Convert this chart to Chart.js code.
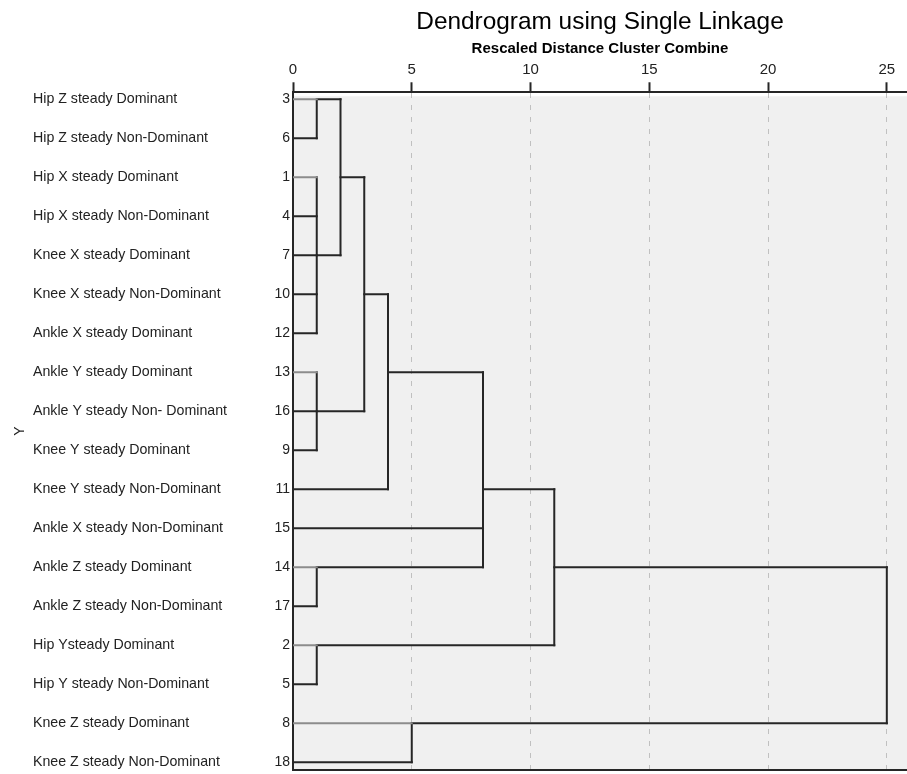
<!DOCTYPE html>
<html>
<head>
<meta charset="utf-8">
<title>Dendrogram using Single Linkage</title>
<script src="https://cdn.jsdelivr.net/npm/chart.js@4.4.1/dist/chart.umd.min.js"></script>
<style>
  html, body { margin: 0; padding: 0; background: #ffffff; }
  canvas { display: block; }
</style>
</head>
<body>
<canvas id="dendro" width="907" height="774"></canvas>
<script>
// Cases in the order they appear down the dendrogram
const caseIds = [3, 6, 1, 4, 7, 10, 12, 13, 16, 9, 11, 15, 14, 17, 2, 5, 8, 18];
const caseNames = [
  "Hip Z steady Dominant",
  "Hip Z steady Non-Dominant",
  "Hip X steady Dominant",
  "Hip X steady Non-Dominant",
  "Knee X steady Dominant",
  "Knee X steady Non-Dominant",
  "Ankle X steady Dominant",
  "Ankle Y steady Dominant",
  "Ankle Y steady Non- Dominant",
  "Knee Y steady Dominant",
  "Knee Y steady Non-Dominant",
  "Ankle X steady Non-Dominant",
  "Ankle Z steady Dominant",
  "Ankle Z steady Non-Dominant",
  "Hip Ysteady Dominant",
  "Hip Y steady Non-Dominant",
  "Knee Z steady Dominant",
  "Knee Z steady Non-Dominant",
];

// Merge steps (rescaled distance), rows spanned by the joining line,
// and the row the combined cluster carries on from
const mergeDistance = [1, 1, 1, 1, 1, 2, 3, 4, 5, 8, 11, 25];
const mergeTopRow = [0, 2, 7, 12, 14, 0, 2, 5, 16, 7, 10, 12];
const mergeBottomRow = [1, 6, 9, 13, 15, 4, 8, 10, 17, 12, 14, 16];
const mergeLinkRow = [0, 4, 8, 12, 14, 2, 5, 7, 16, 10, 12, 12];

const distanceTicks = [0, 5, 10, 15, 20, 25];

const FONT = "'Liberation Sans', Arial, sans-serif";
const DARK = "#262626";
const STUB = "#8c8c8c";

// Build the line segments of the tree
const openStart = caseIds.map(() => 0);
const datasets = [];
const addSeg = (pts, color) => {
  datasets.push({
    data: pts,
    showLine: true,
    borderColor: color,
    borderWidth: 2,
    borderCapStyle: "square",
    pointRadius: 0,
    xAxisID: "x",
    yAxisID: "y",
  });
};

mergeDistance.forEach((d, m) => {
  const top = mergeTopRow[m];
  const bottom = mergeBottomRow[m];
  for (let r = top; r <= bottom; r++) {
    if (openStart[r] !== null) {
      const isStub = openStart[r] === 0 && r === top;
      addSeg([{ x: openStart[r], y: r }, { x: d, y: r }], isStub ? STUB : DARK);
      openStart[r] = null;
    }
  }
  addSeg([{ x: d, y: top }, { x: d, y: bottom }], DARK);
  openStart[mergeLinkRow[m]] = d;
});

// light grey plot background + bottom frame line
const plotFrame = {
  id: "plotFrame",
  beforeDraw(chart) {
    const { ctx, chartArea: a } = chart;
    ctx.save();
    ctx.fillStyle = "#f0f0f0";
    ctx.fillRect(a.left, a.top + 4, a.right - a.left, a.bottom - a.top - 4);
    ctx.restore();
  },
  afterDraw(chart) {
    const { ctx, chartArea: a } = chart;
    ctx.save();
    ctx.strokeStyle = DARK;
    ctx.lineWidth = 2;
    ctx.beginPath();
    ctx.moveTo(a.left - 1, a.bottom);
    ctx.lineTo(a.right, a.bottom);
    ctx.stroke();
    ctx.restore();
  },
};

// row labels may hang over the plot edges, don't let them shrink it
const noEdgePad = (s, w) => {
  s.width = w;
  s.paddingTop = 0;
  s.paddingBottom = 0;
};

const rowMin = -0.18;
const rowMax = 17.2;
const xMax = 25.85;

new Chart(document.getElementById("dendro"), {
  type: "scatter",
  data: { datasets: datasets },
  plugins: [plotFrame],
  options: {
    responsive: false,
    animation: false,
    layout: { padding: { left: 0, right: 0, top: 0, bottom: 4 } },
    plugins: {
      legend: { display: false },
      tooltip: { enabled: false },
      title: {
        display: true,
        text: "Dendrogram using Single Linkage",
        fullSize: false,
        color: "#000",
        font: { family: FONT, size: 24.4, weight: "normal" },
        padding: { top: 8, bottom: 0 },
      },
      subtitle: {
        display: true,
        text: "Rescaled Distance Cluster Combine",
        fullSize: false,
        color: "#000",
        font: { family: FONT, size: 15, weight: "bold" },
        padding: { top: 3, bottom: 0 },
      },
    },
    scales: {
      x: {
        type: "linear",
        position: "top",
        min: 0,
        max: xMax,
        afterBuildTicks: (s) => { s.ticks = distanceTicks.map((v) => ({ value: v })); },
        ticks: { color: "#222", padding: 3, font: { family: FONT, size: 15 } },
        grid: {
          color: (c) => (c.tick && c.tick.value === 0 ? "rgba(0,0,0,0)" : "#c0c0c0"),
          lineWidth: 1,
          tickLength: 10,
          tickColor: DARK,
          tickWidth: 2,
          tickBorderDash: [],
        },
        border: { color: DARK, width: 2, dash: [5, 7] },
      },
      y: {
        type: "linear",
        position: "left",
        weight: 0,
        reverse: true,
        min: rowMin,
        max: rowMax,
        afterBuildTicks: (s) => { s.ticks = caseIds.map((_, i) => ({ value: i })); },
        afterFit: (s) => noEdgePad(s, 26),
        ticks: {
          autoSkip: false,
          padding: 3,
          color: "#222",
          font: { family: FONT, size: 14 },
          callback: (v) => caseIds[v],
        },
        grid: { drawOnChartArea: false, drawTicks: false },
        border: { color: DARK, width: 2 },
      },
      names: {
        type: "linear",
        position: "left",
        weight: 10,
        reverse: true,
        min: rowMin,
        max: rowMax,
        afterBuildTicks: (s) => { s.ticks = caseNames.map((_, i) => ({ value: i })); },
        afterFit: (s) => noEdgePad(s, 234),
        ticks: {
          autoSkip: false,
          crossAlign: "far",
          padding: 0,
          color: "#222",
          font: { family: FONT, size: 14.2 },
          callback: (v) => caseNames[v],
        },
        grid: { display: false, drawTicks: false },
        border: { display: false },
      },
      yTitle: {
        type: "linear",
        position: "left",
        weight: 20,
        afterFit: (s) => noEdgePad(s, 33),
        ticks: { display: false },
        grid: { display: false, drawTicks: false },
        border: { display: false },
        title: {
          display: true,
          text: "Y",
          color: "#222",
          font: { family: FONT, size: 14 },
          padding: { top: 12, bottom: 0 },
        },
      },
    },
  },
});
</script>
</body>
</html>
